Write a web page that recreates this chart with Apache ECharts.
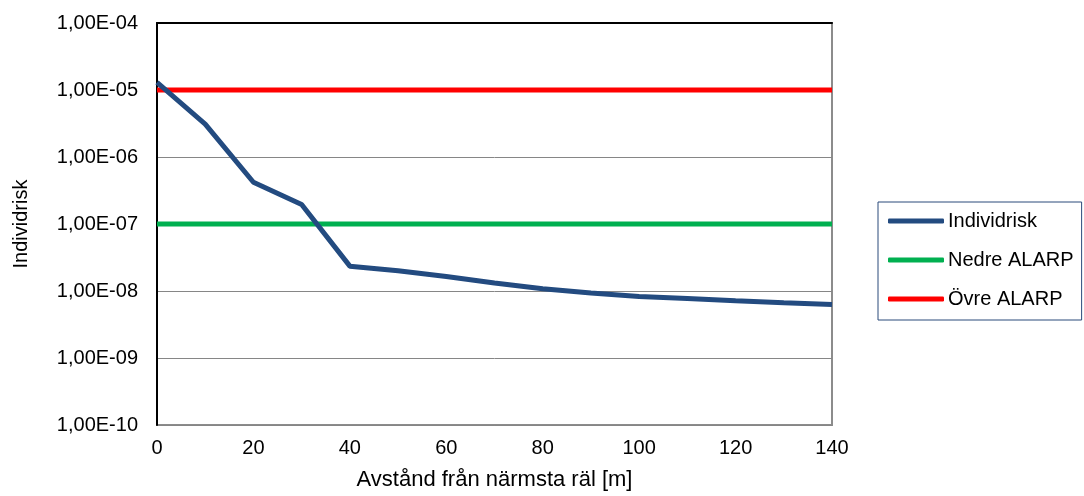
<!DOCTYPE html>
<html>
<head>
<meta charset="utf-8">
<script src="https://cdn.jsdelivr.net/npm/echarts@6/dist/echarts.min.js"></script>
<style>
html,body{margin:0;padding:0;background:#fff;}
#chart{width:1084px;height:496px;}
</style>
</head>
<body>
<div id="chart"></div>
<script>
// Data
const distances = [0, 10, 20, 30, 40, 50, 60, 70, 80, 90, 100, 110, 120, 130, 140];
const individrisk = [1.3e-5, 3.1e-6, 4.2e-7, 1.95e-7, 2.35e-8, 2.0e-8, 1.65e-8, 1.32e-8, 1.08e-8, 9.3e-9, 8.3e-9, 7.7e-9, 7.15e-9, 6.7e-9, 6.3e-9];
const alarpX = [0, 140];
const nedreAlarp = [1e-7, 1e-7];
const ovreAlarp = [1e-5, 1e-5];
const seriesNames = ['Individrisk', 'Nedre ALARP', 'Övre ALARP'];
const xName = 'Avstånd från närmsta räl [m]';
const yName = 'Individrisk';

const FONT = 'Liberation Sans, Arial, sans-serif';
const chart = echarts.init(document.getElementById('chart'), null, {renderer: 'canvas'});

function fmtY(v) {
  const e = Math.round(Math.log10(v));
  const s = e < 0 ? '-' : '+';
  return '1,00E' + s + String(Math.abs(e)).padStart(2, '0');
}

const option = {
  animation: false,
  backgroundColor: '#fff',
  textStyle: {fontFamily: FONT},
  grid: {
    left: 157, top: 23, width: 675, height: 402,
    show: true, borderColor: '#8c8c8c', borderWidth: 2, containLabel: false
  },
  legend: {
    orient: 'vertical',
    left: 878, top: 202,
    padding: [9, 8, 11, 10],
    itemGap: 19,
    itemWidth: 56, itemHeight: 5,
    icon: 'roundRect',
    borderColor: '#2a4a7a', borderWidth: 1,
    textStyle: {fontFamily: FONT, fontSize: 20, color: '#000', padding: [0, 0, 0, -1]},
    data: seriesNames
  },
  xAxis: [{
    type: 'value', min: 0, max: 140, interval: 20,
    name: xName, nameLocation: 'middle', nameGap: 44,
    nameTextStyle: {fontFamily: FONT, fontSize: 22, color: '#000'},
    axisLine: {show: false},
    axisTick: {show: false},
    axisLabel: {fontFamily: FONT, fontSize: 20, color: '#000', margin: 13},
    splitLine: {show: false}
  }, {
    type: 'value', min: 0, max: 140, position: 'top',
    axisLine: {show: true, onZero: false, lineStyle: {color: '#000', width: 2}},
    axisTick: {show: false}, axisLabel: {show: false}, splitLine: {show: false}
  }],
  yAxis: {
    type: 'log', logBase: 10, min: 1e-10, max: 1e-4,
    name: yName, nameLocation: 'middle', nameGap: 126, nameRotate: 90,
    nameTextStyle: {fontFamily: FONT, fontSize: 20, color: '#000'},
    axisLine: {show: true, onZero: false, lineStyle: {color: '#000', width: 2}},
    axisTick: {show: false},
    axisLabel: {fontFamily: FONT, fontSize: 20, color: '#000', margin: 19, formatter: fmtY},
    splitLine: {show: true, lineStyle: {color: '#868686', width: 1}}
  },
  series: [{
    name: seriesNames[0], type: 'line', showSymbol: false, symbol: 'none',
    data: distances.map((d, i) => [d, individrisk[i]]),
    lineStyle: {color: '#234B80', width: 5}, itemStyle: {color: '#234B80'}, z: 4
  }, {
    name: seriesNames[1], type: 'line', showSymbol: false, symbol: 'none',
    data: alarpX.map((d, i) => [d, nedreAlarp[i]]),
    lineStyle: {color: '#00B050', width: 5}, itemStyle: {color: '#00B050'}, z: 3
  }, {
    name: seriesNames[2], type: 'line', showSymbol: false, symbol: 'none',
    data: alarpX.map((d, i) => [d, ovreAlarp[i]]),
    lineStyle: {color: '#FF0000', width: 5}, itemStyle: {color: '#FF0000'}, z: 3
  }]
};
chart.setOption(option);
</script>
</body>
</html>
